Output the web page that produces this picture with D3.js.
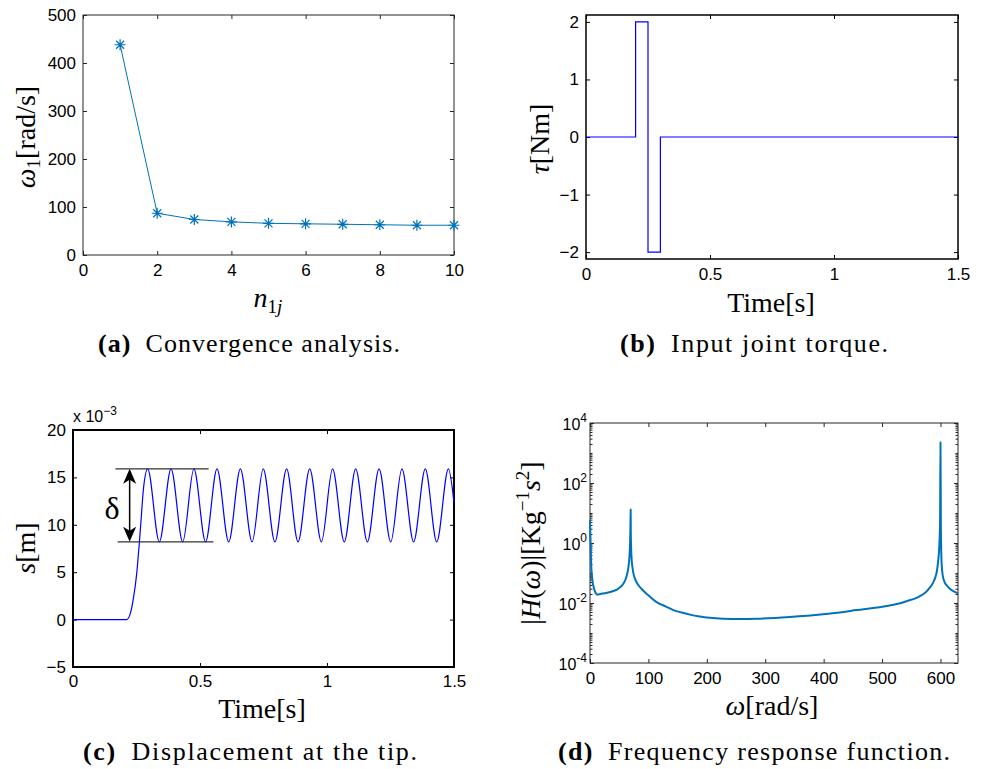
<!DOCTYPE html>
<html>
<head>
<meta charset="utf-8">
<script src="https://cdn.jsdelivr.net/npm/d3@7"></script>
<style>
body { margin: 0; background: #fff; }
text { font-family: "Liberation Sans", Arial, sans-serif; }
.lab, .cap { font-family: "Liberation Serif", "Times New Roman", serif; }
</style>
</head>
<body>
<script>
// (a) convergence analysis
var nTerms = [1, 2, 3, 4, 5, 6, 7, 8, 9, 10]
var omega1 = [438, 87, 74, 69, 66, 65, 64, 63, 62, 62]
var aTicksX = [0, 2, 4, 6, 8, 10]
var aTicksY = [0, 100, 200, 300, 400, 500]

// (b) input joint torque
var torqueT = [0, 0.2, 0.2, 0.25, 0.25, 0.3, 0.3, 1.5]
var torqueV = [0, 0, 2, 2, -2, -2, 0, 0]
var bTicksX = [0, 0.5, 1, 1.5]
var bTicksY = [-2, -1, 0, 1, 2]

// (c) tip displacement, x1e-3 m (flat part, rise, then peaks / troughs)
var tipT = [0, 0.211, 0.224, 0.237, 0.251, 0.260, 0.268, 0.277,
  0.294, 0.340, 0.386, 0.432, 0.476, 0.522, 0.567, 0.613, 0.659, 0.705,
  0.749, 0.795, 0.841, 0.886, 0.932, 0.978, 1.022, 1.068, 1.113, 1.159,
  1.205, 1.251, 1.295, 1.341, 1.387, 1.432, 1.478, 1.5]
var tipS = [0, 0, 0.5, 2.1, 4.9, 7.7, 10.5, 13.7,
  15.9, 8.2, 15.9, 8.2, 15.9, 8.2, 15.9, 8.2, 15.9, 8.2,
  15.9, 8.2, 15.9, 8.2, 15.9, 8.2, 15.9, 8.2, 15.9, 8.2,
  15.9, 8.2, 15.9, 8.2, 15.9, 8.2, 15.9, 12.3]
var cTicksX = [0, 0.5, 1, 1.5]
var cTicksY = [-5, 0, 5, 10, 15, 20]
var deltaTop = {t0: 0.167, t1: 0.534, s: 15.9}
var deltaBot = {t0: 0.176, t1: 0.553, s: 8.2}
var deltaArrowT = 0.223
var deltaLabel = {t: 0.154, s: 11.8}

// (d) frequency response function
var freqW = [0, 1, 2, 4, 7, 10, 12, 18, 29, 40, 46, 52, 57, 61, 64, 66, 67.5, 68.7, 69.3, 69.6,
  69.9, 70.5, 71.5, 73, 75, 77, 80, 83, 91, 100, 114, 130, 143, 157, 171, 185, 200, 228, 257, 285,
  342, 399, 456, 513, 531, 542, 556, 565, 575, 582, 587, 591, 594, 596, 598, 599.3, 600,
  600.7, 602, 604, 607, 611, 616, 622, 630]
var freqH = [5.8, 1.0, 0.2, 0.06, 0.03, 0.021, 0.019, 0.02, 0.022, 0.025, 0.028, 0.034, 0.044, 0.062, 0.1, 0.17, 0.34, 1.1, 4.5, 13,
  2.0, 0.6, 0.25, 0.14, 0.085, 0.065, 0.048, 0.039, 0.026, 0.018, 0.0107, 0.0076, 0.0058, 0.0048, 0.0041, 0.0036, 0.0033, 0.003, 0.00295, 0.003,
  0.0034, 0.0042, 0.0058, 0.0083, 0.0098, 0.0115, 0.014, 0.017, 0.023, 0.033, 0.046, 0.07, 0.12, 0.25, 0.8, 5, 2300,
  3.5, 0.2, 0.08, 0.05, 0.038, 0.03, 0.025, 0.021]
var dTicksX = [0, 100, 200, 300, 400, 500, 600]
var dTicksY = [1e-4, 1e-2, 1, 1e2, 1e4]

var W = 985, H = 769
var svg = d3.select("body").append("svg")
    .attr("width", W)
    .attr("height", H)

function drawFrame(g, x, y, xt, yt, o) {
    var w = x.range()[1], h = y.range()[0]
    var fmtX = o.xfmt || d3.format("")
    var fmtY = o.yfmt || d3.format("")
    g.append("g").attr("transform", "translate(0," + h + ")")
        .call(d3.axisBottom(x).tickValues(xt).tickSize(-4).tickSizeOuter(0).tickPadding(o.xpad).tickFormat(fmtX))
    g.append("g")
        .call(d3.axisTop(x).tickValues(xt).tickSize(-4).tickSizeOuter(0).tickFormat(""))
    g.append("g")
        .call(d3.axisLeft(y).tickValues(yt).tickSize(-4).tickSizeOuter(0).tickPadding(o.ypad).tickFormat(fmtY))
    g.append("g").attr("transform", "translate(" + w + ",0)")
        .call(d3.axisRight(y).tickValues(yt).tickSize(-4).tickSizeOuter(0).tickFormat(""))
    g.selectAll(".domain").remove()
    g.selectAll(".tick line").attr("stroke", o.color)
    g.selectAll(".tick text")
        .attr("font-family", "Liberation Sans, Arial, sans-serif")
        .attr("font-size", 17)
        .attr("fill", "#000")
    g.append("rect")
        .attr("width", w)
        .attr("height", h)
        .attr("fill", "none")
        .attr("stroke", o.color)
        .attr("stroke-width", o.sw)
}

function caption(x, y, tag, rest, len) {
    var t = svg.append("text")
        .attr("class", "cap")
        .attr("x", x)
        .attr("y", y)
        .attr("font-size", 26)
        .attr("textLength", len)
        .attr("lengthAdjust", "spacing")
    t.append("tspan").attr("font-weight", "bold").text(tag)
    t.append("tspan").text("\u2002" + rest)
}

function yLabel(x, y) {
    return svg.append("text")
        .attr("class", "lab")
        .attr("font-size", 28)
        .attr("text-anchor", "middle")
        .attr("transform", "translate(" + x + "," + y + ") rotate(-90)")
}

function xLabel(x, y) {
    return svg.append("text")
        .attr("class", "lab")
        .attr("font-size", 28)
        .attr("text-anchor", "middle")
        .attr("x", x)
        .attr("y", y)
}

// ---------- (a) ----------
var ga = svg.append("g").attr("transform", "translate(83,15)")
var xa = d3.scaleLinear().domain([0, 10]).range([0, 371])
var ya = d3.scaleLinear().domain([0, 500]).range([240, 0])
drawFrame(ga, xa, ya, aTicksX, aTicksY, {color: "#262626", sw: 1, xpad: 9, ypad: 7})

var convData = nTerms.map(function (d, i) { return {n: d, w: omega1[i]} })
ga.append("path")
    .attr("d", d3.line().x(function (d) { return xa(d.n) }).y(function (d) { return ya(d.w) })(convData))
    .attr("fill", "none")
    .attr("stroke", "#0072BD")
    .attr("stroke-width", 1)

var star = "M-5.5,0L5.5,0M0,-5.5L0,5.5M-4,-4L4,4M-4,4L4,-4"
ga.selectAll(".star")
    .data(convData)
    .enter().append("path")
    .attr("class", "star")
    .attr("transform", function (d) { return "translate(" + xa(d.n) + "," + ya(d.w) + ")" })
    .attr("d", star)
    .attr("stroke", "#0072BD")
    .attr("stroke-width", 1.2)
    .attr("fill", "none")

var lya = yLabel(35, 137)
lya.append("tspan").attr("font-style", "italic").text("ω")
lya.append("tspan").attr("font-size", 19).attr("dy", 5).text("1")
lya.append("tspan").attr("dy", -5).text("[rad/s]")

var lxa = xLabel(268, 307)
lxa.append("tspan").attr("font-style", "italic").text("n")
lxa.append("tspan").attr("font-size", 19).attr("dy", 6).text("1")
lxa.append("tspan").attr("font-size", 19).attr("font-style", "italic").text("j")

caption(98, 352, "(a)", "Convergence analysis.", 302)

// ---------- (b) ----------
var gb = svg.append("g").attr("transform", "translate(586,15)")
var xb = d3.scaleLinear().domain([0, 1.5]).range([0, 372])
var yb = d3.scaleLinear().domain([-2.12, 2.12]).range([244, 0])
drawFrame(gb, xb, yb, bTicksX, bTicksY, {color: "#000", sw: 1.5, xpad: 9, ypad: 7})

var torqueData = torqueT.map(function (d, i) { return {t: d, v: torqueV[i]} })
gb.append("path")
    .attr("d", d3.line().x(function (d) { return xb(d.t) }).y(function (d) { return yb(d.v) })(torqueData))
    .attr("fill", "none")
    .attr("stroke", "#0000FF")
    .attr("stroke-width", 1.2)

var lyb = yLabel(549, 139)
lyb.append("tspan").attr("font-style", "italic").text("τ")
lyb.append("tspan").text("[Nm]")

xLabel(771, 312).text("Time[s]")

caption(620, 352, "(b)", "Input joint torque.", 268)

// ---------- (c) ----------
var gc = svg.append("g").attr("transform", "translate(73,430)")
var xc = d3.scaleLinear().domain([0, 1.5]).range([0, 381])
var yc = d3.scaleLinear().domain([-5, 20]).range([237, 0])
drawFrame(gc, xc, yc, cTicksX, cTicksY, {color: "#000", sw: 2, xpad: 8, ypad: 7})

var tipData = tipT.map(function (d, i) { return {t: d, s: tipS[i]} })
gc.append("path")
    .attr("d", d3.line().x(function (d) { return xc(d.t) }).y(function (d) { return yc(d.s) })
        .curve(d3.curveMonotoneX)(tipData))
    .attr("fill", "none")
    .attr("stroke", "#0000FF")
    .attr("stroke-width", 1.2)

// delta annotation
;[deltaTop, deltaBot].forEach(function (d) {
    gc.append("line")
        .attr("x1", xc(d.t0)).attr("x2", xc(d.t1))
        .attr("y1", yc(d.s)).attr("y2", yc(d.s))
        .attr("stroke", "#333")
        .attr("stroke-width", 1.2)
})
var ax = xc(deltaArrowT), ay0 = yc(deltaTop.s), ay1 = yc(deltaBot.s)
gc.append("line")
    .attr("x1", ax).attr("x2", ax)
    .attr("y1", ay0 + 8).attr("y2", ay1 - 8)
    .attr("stroke", "#000")
    .attr("stroke-width", 1.5)
gc.append("path")
    .attr("d", "M" + ax + "," + ay0 + "l-6.5,15l6.5,-4l6.5,4Z")
    .attr("fill", "#000")
gc.append("path")
    .attr("d", "M" + ax + "," + ay1 + "l-6.5,-15l6.5,4l6.5,-4Z")
    .attr("fill", "#000")
gc.append("text")
    .attr("class", "lab")
    .attr("x", xc(deltaLabel.t))
    .attr("y", yc(deltaLabel.s))
    .attr("dy", "0.35em")
    .attr("text-anchor", "middle")
    .attr("font-size", 32)
    .text("δ")

var mult = svg.append("text").attr("x", 73).attr("y", 422).attr("font-size", 16)
mult.append("tspan").text("x 10")
mult.append("tspan").attr("font-size", 12).attr("dy", -7).text("−3")

var lyc = yLabel(35, 548)
lyc.append("tspan").attr("font-style", "italic").text("s")
lyc.append("tspan").text("[m]")

xLabel(262, 718).text("Time[s]")

caption(83, 760, "(c)", "Displacement at the tip.", 334)

// ---------- (d) ----------
var gd = svg.append("g").attr("transform", "translate(590,423)")
var xd = d3.scaleLinear().domain([0, 630]).range([0, 368])
var yd = d3.scaleLog().domain([1e-4, 1e4]).range([240, 0])
drawFrame(gd, xd, yd, dTicksX, dTicksY, {color: "#262626", sw: 1, xpad: 9, ypad: 4,
    yfmt: function () { return "" }})

// minor log ticks
var minor = []
for (var e = -4; e < 4; e++) {
    for (var k = 1; k < 10; k++) minor.push(k * Math.pow(10, e))
}
gd.append("g").call(d3.axisLeft(yd).tickValues(minor).tickSize(-2.5).tickSizeOuter(0).tickFormat(""))
gd.append("g").attr("transform", "translate(368,0)")
    .call(d3.axisRight(yd).tickValues(minor).tickSize(-2.5).tickSizeOuter(0).tickFormat(""))
gd.selectAll(".domain").remove()
gd.selectAll(".tick line").attr("stroke", "#262626")

// log labels 10^n
dTicksY.forEach(function (v) {
    var t = gd.append("text")
        .attr("x", -3)
        .attr("y", yd(v))
        .attr("dy", "0.42em")
        .attr("text-anchor", "end")
        .attr("font-size", 16)
    t.append("tspan").text("10")
    t.append("tspan").attr("font-size", 12).attr("dy", -8).text(String(Math.round(Math.log10(v))))
})

var freqData = freqW.map(function (d, i) { return {w: d, h: freqH[i]} })
gd.append("path")
    .attr("d", d3.line().x(function (d) { return xd(d.w) }).y(function (d) { return yd(d.h) })
        .curve(d3.curveMonotoneX)(freqData))
    .attr("fill", "none")
    .attr("stroke", "#0072BD")
    .attr("stroke-width", 2)
    .attr("stroke-linejoin", "round")

var lyd = yLabel(540, 543)
lyd.append("tspan").text("|")
lyd.append("tspan").attr("font-style", "italic").text("H")
lyd.append("tspan").text("(")
lyd.append("tspan").attr("font-style", "italic").text("ω")
lyd.append("tspan").text(")|[Kg")
lyd.append("tspan").attr("font-size", 19).attr("dy", -11).text("−1")
lyd.append("tspan").attr("dy", 11).attr("font-style", "italic").text("s")
lyd.append("tspan").attr("font-size", 19).attr("dy", -11).text("2")
lyd.append("tspan").attr("dy", 11).text("]")

var lxd = xLabel(772, 715)
lxd.append("tspan").attr("font-style", "italic").text("ω")
lxd.append("tspan").text("[rad/s]")

caption(558, 760, "(d)", "Frequency response function.", 392)
</script>
</body>
</html>
